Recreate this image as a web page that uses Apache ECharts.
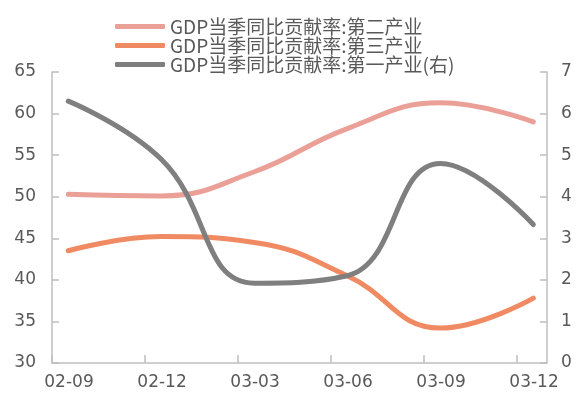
<html>

<head>
    <meta charset="utf-8">
    <title>GDP贡献率</title>
    <script src="https://cdn.jsdelivr.net/npm/echarts@6/dist/echarts.min.js"></script>
    <style>
        body { margin: 0; background: #fff; }
    </style>
</head>

<body>
    <div id="result" style="width:587px;height:396px;"></div>
    <script>
        // 季度
        var categories = ['02-09', '02-12', '03-03', '03-06', '03-09', '03-12'];
        // 第二产业 (左轴)
        var secondary = [50.3, 50.1, 53.0, 58.2, 61.3, 59.0];
        // 第三产业 (左轴)
        var tertiary = [43.5, 45.2, 44.5, 40.5, 34.2, 37.8];
        // 第一产业 (右轴)
        var primary = [6.3, 4.9, 1.92, 2.1, 4.8, 3.33];

        var names = [
            'GDP当季同比贡献率:第二产业',
            'GDP当季同比贡献率:第三产业',
            'GDP当季同比贡献率:第一产业(右)'
        ];

        // 刻度在类目左侧, 数据点向右偏移
        var X_OFFSET = 0.175;
        var X_MAX = 5.322;

        function toPairs(vals) {
            return vals.map(function (v, i) {
                return [i + X_OFFSET, v];
            });
        }

        var axisColor = '#bfbfbf';
        var labelColor = '#595959';

        var myChart = echarts.init(document.getElementById('result'));

        var option = {
            backgroundColor: '#ffffff',
            animation: false,
            legend: {
                orient: 'vertical',
                left: 110,
                top: 12,
                itemWidth: 50,
                itemHeight: 5,
                itemGap: 0,
                icon: 'roundRect',
                textStyle: {
                    color: labelColor,
                    fontSize: 19,
                    lineHeight: 18,
                    fontFamily: '"Noto Sans CJK SC", sans-serif'
                },
                data: names
            },
            grid: {
                left: 52,
                right: 40,
                top: 72,
                bottom: 33
            },
            xAxis: {
                type: 'value',
                min: 0,
                max: X_MAX,
                interval: 1,
                axisLine: { lineStyle: { color: axisColor, width: 1.5 } },
                axisTick: { inside: true, length: 8, lineStyle: { color: axisColor, width: 1.5 } },
                splitLine: { show: false },
                axisLabel: {
                    color: labelColor,
                    fontSize: 17,
                    fontFamily: '"DejaVu Sans", sans-serif',
                    margin: 11,
                    padding: [0, 0, 0, 34],
                    showMaxLabel: false,
                    formatter: function (v) {
                        var i = Math.round(v);
                        if (Math.abs(v - i) > 1e-6 || i < 0 || i >= categories.length) return '';
                        return categories[i];
                    }
                }
            },
            yAxis: [{
                type: 'value',
                min: 30,
                max: 65,
                interval: 5,
                axisLine: { show: true, lineStyle: { color: axisColor, width: 1.5 } },
                axisTick: { show: true, inside: true, length: 7, lineStyle: { color: axisColor, width: 1.5 } },
                splitLine: { show: false },
                axisLabel: {
                    color: labelColor,
                    fontSize: 17,
                    fontFamily: '"DejaVu Sans", sans-serif',
                    margin: 16
                }
            }, {
                type: 'value',
                min: 0,
                max: 7,
                interval: 1,
                axisLine: { show: true, lineStyle: { color: axisColor, width: 1.5 } },
                axisTick: { show: true, inside: true, length: 7, lineStyle: { color: axisColor, width: 1.5 } },
                splitLine: { show: false },
                axisLabel: {
                    color: labelColor,
                    fontSize: 17,
                    fontFamily: '"DejaVu Sans", sans-serif',
                    margin: 14
                }
            }],
            series: [{
                name: names[0],
                type: 'line',
                yAxisIndex: 0,
                data: toPairs(secondary),
                smooth: 0.45,
                showSymbol: false,
                color: '#eba097',
                lineStyle: { width: 5, cap: 'round' }
            }, {
                name: names[1],
                type: 'line',
                yAxisIndex: 0,
                data: toPairs(tertiary),
                smooth: 0.45,
                showSymbol: false,
                color: '#f08a63',
                lineStyle: { width: 5, cap: 'round' }
            }, {
                name: names[2],
                type: 'line',
                yAxisIndex: 1,
                data: toPairs(primary),
                smooth: 0.45,
                showSymbol: false,
                color: '#7f7f7f',
                lineStyle: { width: 5, cap: 'round' }
            }]
        };
        myChart.setOption(option);
    </script>
</body>

</html>
